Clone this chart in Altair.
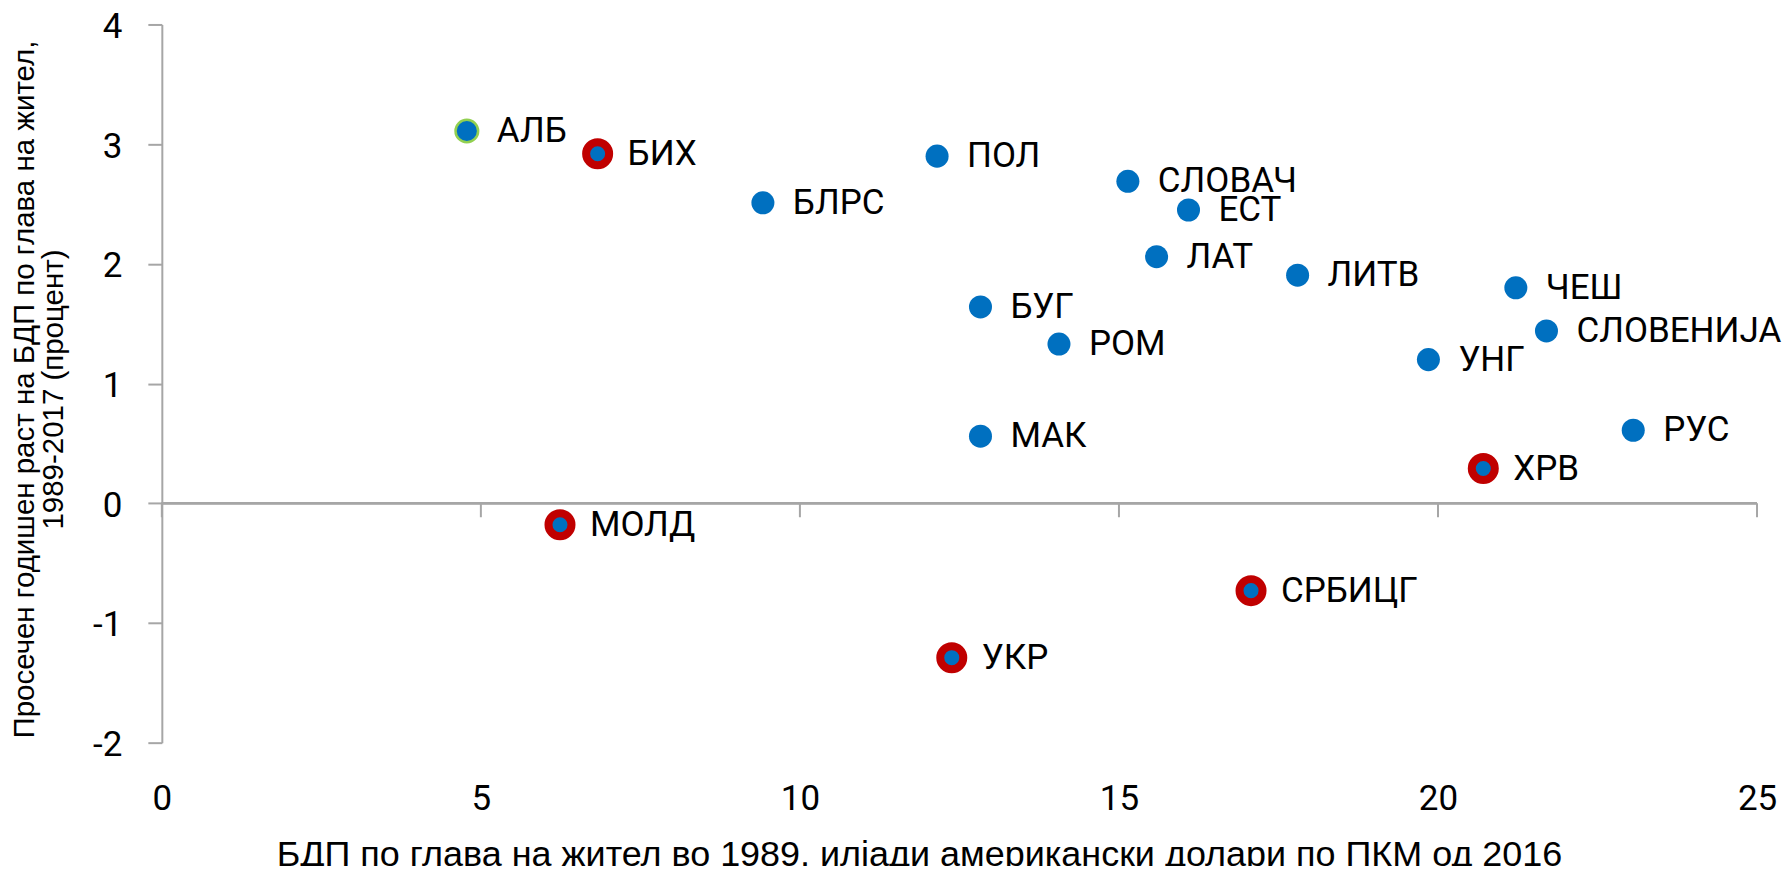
import altair as alt
import pandas as pd

names = ["АЛБ", "БИХ", "БЛРС", "ПОЛ", "СЛОВАЧ", "ЕСТ", "ЛАТ", "ЛИТВ", "ЧЕШ",
         "СЛОВЕНИЈА", "БУГ", "РОМ", "УНГ", "МАК", "РУС", "ХРВ", "МОЛД", "СРБИЦГ", "УКР"]
gdp_1989 = [4.78, 6.83, 9.42, 12.15, 15.14, 16.09, 15.59, 17.80, 21.22,
            21.70, 12.83, 14.06, 19.85, 12.83, 23.06, 20.71, 6.24, 17.07, 12.38]
growth = [3.11, 2.92, 2.51, 2.90, 2.69, 2.45, 2.06, 1.905, 1.80,
          1.44, 1.64, 1.33, 1.20, 0.56, 0.61, 0.29, -0.18, -0.73, -1.29]
group = ["green", "ring", "plain", "plain", "plain", "plain", "plain", "plain", "plain",
         "plain", "plain", "plain", "plain", "plain", "plain", "ring", "ring", "ring", "ring"]

x_ticks = [0, 5, 10, 15, 20, 25]
y_ticks = [-2, -1, 0, 1, 2, 3, 4]

df = pd.DataFrame({"name": names, "x": gdp_1989, "y": growth, "group": group})
ticks_df = pd.DataFrame({"t": x_ticks})

BLUE = "#0070C0"
RED = "#C00000"
GREEN = "#92D050"
GRAY = "#A6A6A6"
LABEL_FONT = "Roboto"

x_title = "БДП по глава на жител во 1989, илјади американски долари по ПКМ од 2016"
y_title = ["Просечен годишен раст на БДП по глава на жител,", "1989-2017 (процент)"]

xs = alt.Scale(domain=[0, 25], nice=False, zero=False)
ys = alt.Scale(domain=[-2, 4], nice=False, zero=False)

x_axis = alt.Axis(values=x_ticks, domain=False, ticks=False, grid=False,
                  labelExpr="toString(datum.value)", labelFlush=False,
                  labelFont=LABEL_FONT, labelFontSize=35, labelColor="#000000",
                  labelPadding=39, title=x_title, titleFont="Liberation Sans",
                  titleFontSize=36, titleFontWeight="normal", titleColor="#000000",
                  titleBaseline="alphabetic", titleY=123, titleX=758, titleAlign="center")
y_axis = alt.Axis(values=y_ticks, grid=False, domain=True, domainColor=GRAY, domainWidth=2,
                  ticks=True, tickColor=GRAY, tickWidth=2, tickSize=14,
                  labelExpr="toString(datum.value)", labelFlush=False, labelOffset=2,
                  labelFont=LABEL_FONT, labelFontSize=35, labelColor="#000000",
                  labelPadding=26, title=y_title, titleFont="Liberation Sans",
                  titleFontSize=29.5, titleFontWeight="normal", titleColor="#000000",
                  titleBaseline="alphabetic", titleLineHeight=29, titleX=-128, titleY=365,
                  titleAngle=270)

base = alt.Chart(df)

points_axes = base.mark_point(opacity=0).encode(
    x=alt.X("x:Q", scale=xs, axis=x_axis),
    y=alt.Y("y:Q", scale=ys, axis=y_axis),
)

zero_line = alt.Chart(ticks_df).mark_rule(color=GRAY, strokeWidth=2).encode(
    x=alt.datum(0, scale=xs), x2=alt.datum(25), y=alt.datum(0, scale=ys)
)

x_tick_marks = alt.Chart(ticks_df).mark_rule(color=GRAY, strokeWidth=2, y2Offset=14).encode(
    x=alt.X("t:Q", scale=xs), y=alt.datum(0, scale=ys), y2=alt.datum(0)
)

plain = base.transform_filter(alt.datum.group == "plain").mark_point(
    shape="circle", filled=True, fill=BLUE, stroke=BLUE, strokeWidth=0, size=531, opacity=1
).encode(x="x:Q", y="y:Q")

ring = base.transform_filter(alt.datum.group == "ring").mark_point(
    shape="circle", filled=True, fill=BLUE, stroke=RED, strokeWidth=8, size=531,
    opacity=1, strokeOpacity=1, fillOpacity=1
).encode(x="x:Q", y="y:Q")

green = base.transform_filter(alt.datum.group == "green").mark_point(
    shape="circle", filled=True, fill=BLUE, stroke=GREEN, strokeWidth=2.5, size=511,
    opacity=1, strokeOpacity=1, fillOpacity=1
).encode(x="x:Q", y="y:Q")

labels = base.mark_text(align="left", baseline="middle", dx=30, font=LABEL_FONT,
                        fontSize=35, color="#000000").encode(
    x="x:Q", y="y:Q", text="name:N"
)

chart = alt.layer(points_axes, zero_line, x_tick_marks, plain, ring, green, labels).properties(
    width=1597, height=719,
    autosize=alt.AutoSizeParams(type="none"),
    padding={"left": 154, "top": 16, "right": 25, "bottom": 123},
    background="#FFFFFF",
).configure_view(stroke=None)

chart.save("out.html", embed_options={"renderer": "svg", "actions": False})
